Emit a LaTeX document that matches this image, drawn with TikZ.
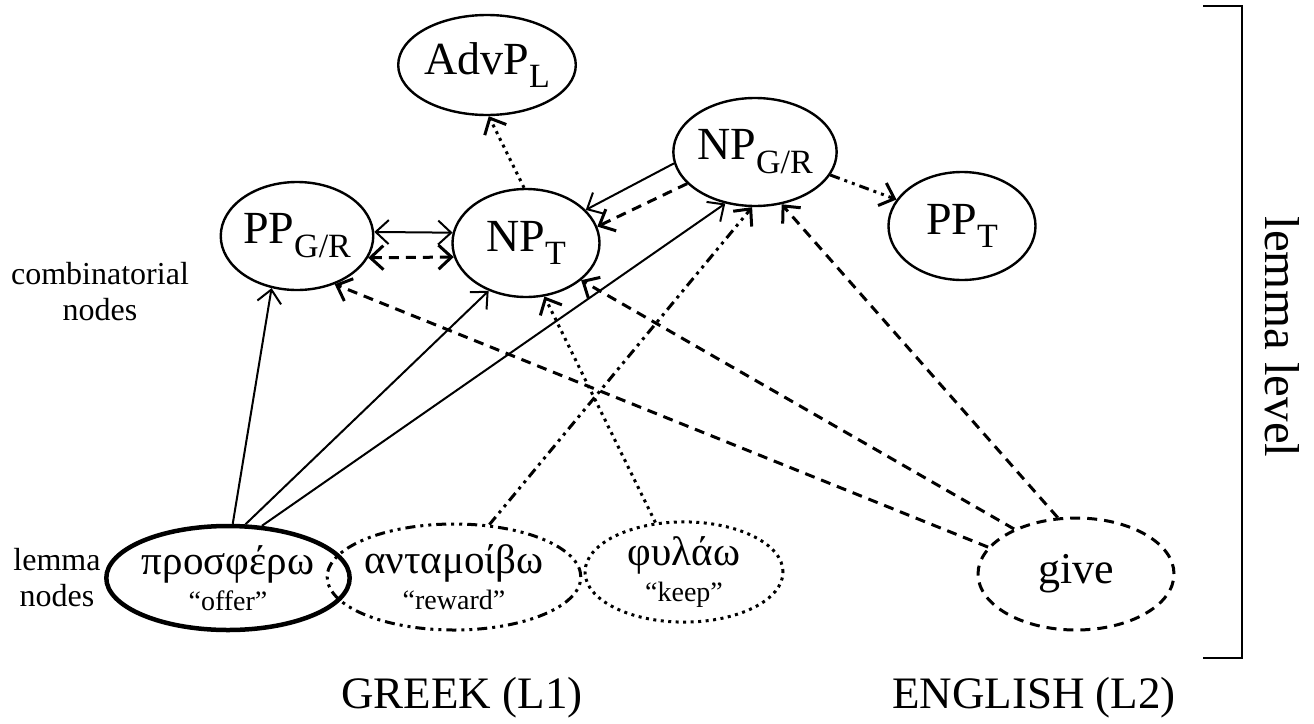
\documentclass[tikz,border=0pt]{standalone}
\usepackage{fontspec}
\setmainfont{Liberation Serif}
\usetikzlibrary{shapes.geometric,arrows.meta}
\newcommand{\lsub}[1]{\raisebox{-0.3em}{\fontsize{34}{34}\selectfont #1}}

\begin{document}
\begin{tikzpicture}[x=1pt,y=-1pt,>={Straight Barb[length=13pt,width=24pt]},
  comb/.style={draw,ellipse,line width=2.4pt,minimum width=147pt,minimum height=108pt,inner sep=0pt,font=\fontsize{46}{46}\selectfont},
  lem/.style={draw,ellipse,line width=2.6pt,minimum width=198pt,minimum height=106pt,inner sep=0pt,align=center,font=\fontsize{41}{36}\selectfont},
  side/.style={align=center,font=\fontsize{32}{36}\selectfont},
  dashpat/.style={dash pattern=on 10pt off 7pt},
  dotpat/.style={dash pattern=on 3pt off 4.5pt},
  dotdashpat/.style={dash pattern=on 10pt off 5pt on 3pt off 5pt on 3pt off 5pt},
  plain/.style={line width=2pt,->},
  heavy/.style={line width=3pt,->}]
  \useasboundingbox (0,0) rectangle (1314,723);

  \node[comb,minimum height=100pt] (advp) at (487,65) {AdvP\lsub{L}};
  \node[comb] (npgr) at (755,152) {NP\lsub{G/R}};
  \node[comb] (ppt) at (962,226) {PP\lsub{T}};
  \node[comb] (ppgr) at (297,236) {PP\lsub{G/R}};
  \node[comb] (npt) at (526,243) {NP\lsub{T}};

  \node[lem,line width=4.5pt,minimum width=200pt,minimum height=104pt] (offer) at (228,578) {προσφέρω\\{\fontsize{28}{28}\selectfont “offer”}};
  \node[lem,line width=3pt,dotdashpat] (reward) at (454,577) {ανταμοίβω\\{\fontsize{28}{28}\selectfont “reward”}};
  \node[lem,line width=3pt,dotpat,minimum height=98pt] (keep) at (684,572) {φυλάω\\{\fontsize{28}{28}\selectfont “keep”}};
  \node[lem,line width=3pt,dashpat,minimum width=196pt,minimum height=112pt,font=\fontsize{44}{44}\selectfont] (give) at (1076,574) {give};

  \node[side] (combl) at (100,292) {combinatorial\\nodes};
  \node[side] (leml) at (57,578) {lemma\\nodes};
  \node[font=\fontsize{45}{45}\selectfont] (greek) at (462,698) {GREEK (L1)};
  \node[font=\fontsize{45}{45}\selectfont] (english) at (1034,698) {ENGLISH (L2)};

  \coordinate (brtop) at (1203,6);
  \coordinate (brbot) at (1203,658);
  \draw[line width=2.4pt] (brtop) -- (1242,6) -- (1242,658) -- (brbot);
  \node[rotate=-90,font=\fontsize{49}{49}\selectfont] (level) at (1282,337) {lemma level};

  \draw[heavy,dotpat] (npt.92) -- (advp.-88);
  \draw[plain,<->] (ppgr.3) -- (npt.172);
  \draw[heavy,<->,dashpat] (ppgr.-17) -- (npt.-169);
  \draw[plain] (npgr.188) -- (npt.29);
  \draw[heavy,dashpat] (npgr.205) -- (npt.13);
  \draw[heavy,dotdashpat] (npgr.-17) -- (ppt.158);

  \draw[plain] (offer.85) -- (ppgr.-116);
  \draw[plain] (offer.72) -- (npt.-128);
  \draw[plain] (offer.57) -- (npgr.-120);
  \draw[heavy,dotdashpat] (reward.56) -- (npgr.-93);
  \draw[heavy,dotpat] (keep.120) -- (npt.-71);
  \draw[heavy,dashpat] (give.163) -- (ppgr.-52);
  \draw[heavy,dashpat] (give.144) -- (npt.-34);
  \draw[heavy,dashpat] (give.108) -- (npgr.-63);
\end{tikzpicture}
\end{document}
